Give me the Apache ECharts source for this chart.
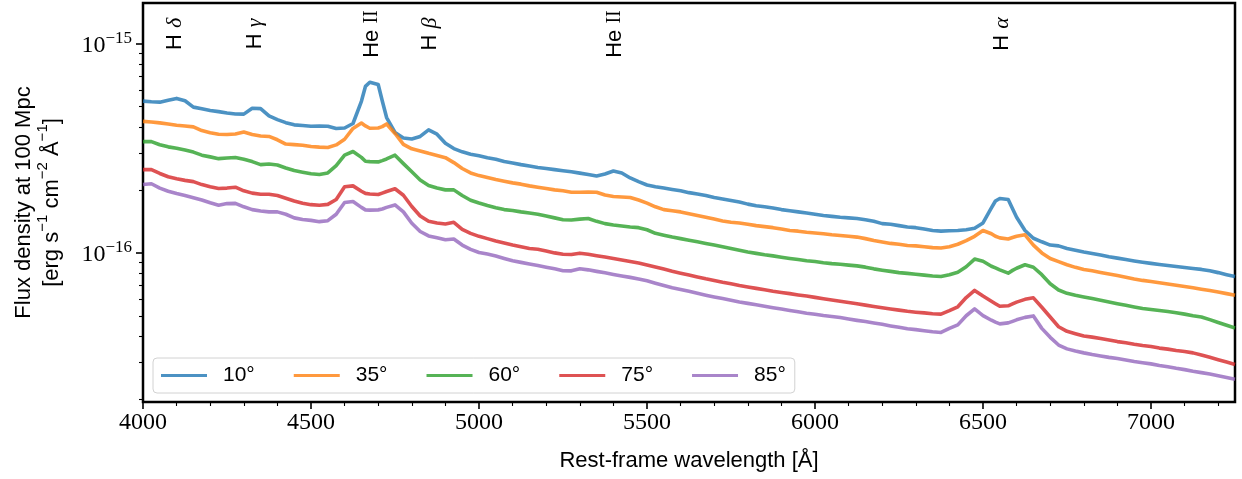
<!DOCTYPE html>
<html>
<head>
<meta charset="utf-8">
<script src="https://cdn.jsdelivr.net/npm/echarts@6/dist/echarts.min.js"></script>
<style>
  html, body { margin: 0; padding: 0; background: #ffffff; }
  #chart { width: 1242px; height: 479px; }
</style>
</head>
<body>
<div id="chart"></div>
<script>
// Rest-frame wavelength samples [Å] (a few extra samples across the strongest lines)
const wavelength = [
  4000, 4025, 4050, 4075, 4100, 4125, 4150, 4175, 4200, 4225, 4250, 4275, 4300, 4325, 4350, 4375,
  4400, 4425, 4450, 4475, 4500, 4525, 4550, 4575, 4600, 4625, 4650, 4662, 4675, 4700, 4712, 4725, 4750, 4775,
  4800, 4825, 4850, 4875, 4900, 4925, 4950, 4975, 5000, 5025, 5050, 5075, 5100, 5125, 5150, 5175,
  5200, 5225, 5250, 5275, 5300, 5325, 5350, 5375, 5400, 5425, 5450, 5475, 5500, 5525, 5550, 5575,
  5600, 5625, 5650, 5675, 5700, 5725, 5750, 5775, 5800, 5825, 5850, 5875, 5900, 5925, 5950, 5975,
  6000, 6025, 6050, 6075, 6100, 6125, 6150, 6175, 6200, 6225, 6250, 6275, 6300, 6325, 6350, 6375,
  6400, 6425, 6450, 6475, 6500, 6525, 6537, 6550, 6575, 6588, 6600, 6625, 6650, 6675, 6700, 6725, 6750, 6775,
  6800, 6825, 6850, 6875, 6900, 6925, 6950, 6975, 7000, 7025, 7050, 7075, 7100, 7125, 7150, 7175,
  7200, 7225, 7250
];

// Flux density at 100 Mpc, in units of 1e-17 erg s^-1 cm^-2 Å^-1, one array per viewing angle
const flux10 = [
  53.1, 52.7, 52.5, 53.6, 54.7, 53.3, 49.7, 48.8, 47.9, 47.3, 46.6, 46.1, 46.0, 49.1, 48.9, 45.1,
  43.3, 41.9, 40.9, 40.6, 40.3, 40.4, 40.3, 39.3, 39.5, 41.5, 53.0, 62.4, 65.3, 63.7, 53.3, 44.3, 37.6, 35.4,
  35.0, 36.0, 38.7, 36.9, 33.4, 31.5, 30.4, 29.6, 29.1, 28.5, 28.0, 27.3, 26.9, 26.4, 26.0, 25.6,
  25.3, 25.0, 24.7, 24.4, 24.05, 23.7, 23.3, 23.8, 24.6, 24.1, 22.8, 21.9, 21.1, 20.7, 20.4, 20.1,
  19.8, 19.4, 19.1, 18.8, 18.4, 18.1, 17.8, 17.5, 17.1, 16.8, 16.6, 16.4, 16.1, 15.9, 15.7, 15.5,
  15.3, 15.1, 14.95, 14.8, 14.7, 14.6, 14.4, 14.15, 13.8, 13.7, 13.5, 13.3, 13.2, 13.0, 12.8, 12.7,
  12.75, 12.8, 12.9, 13.1, 13.9, 16.4, 17.7, 18.2, 18.0, 16.25, 14.8, 12.8, 11.75, 11.3, 10.9, 10.8, 10.5, 10.3,
  10.1, 9.94, 9.76, 9.58, 9.44, 9.29, 9.15, 9.02, 8.91, 8.81, 8.71, 8.61, 8.52, 8.43, 8.34, 8.21,
  8.05, 7.87, 7.71
];
const flux35 = [
  42.5, 42.2, 41.8, 41.3, 40.7, 40.4, 40.0, 38.4, 37.5, 36.9, 36.8, 37.0, 37.8, 36.8, 36.2, 36.0,
  34.7, 33.1, 32.9, 32.7, 32.2, 32.0, 31.9, 32.8, 34.9, 39.3, 41.7, 40.4, 39.4, 39.5, 40.1, 41.3, 37.2, 33.0,
  31.4, 30.7, 29.9, 29.2, 28.5, 27.0, 25.3, 24.1, 23.4, 22.9, 22.4, 22.0, 21.6, 21.3, 20.9, 20.6,
  20.3, 20.0, 19.8, 19.5, 19.5, 19.55, 19.5, 18.9, 18.6, 18.5, 18.4, 17.9, 17.3, 16.6, 16.1, 15.9,
  15.7, 15.4, 15.1, 14.8, 14.5, 14.2, 14.0, 13.9, 13.7, 13.5, 13.35, 13.2, 13.0, 12.8, 12.7, 12.56,
  12.45, 12.35, 12.2, 12.1, 12.0, 11.9, 11.7, 11.45, 11.27, 11.1, 11.0, 10.85, 10.8, 10.7, 10.6, 10.55,
  10.7, 11.0, 11.45, 12.0, 12.8, 12.35, 12.0, 11.8, 11.65, 11.84, 12.0, 12.2, 10.9, 10.0, 9.40, 9.08, 8.78, 8.53,
  8.34, 8.22, 8.07, 7.93, 7.79, 7.65, 7.51, 7.39, 7.30, 7.20, 7.10, 7.00, 6.91, 6.81, 6.71, 6.61,
  6.50, 6.39, 6.27
];
const flux60 = [
  34.0, 34.0, 32.85, 32.1, 31.6, 31.0, 30.3, 29.3, 28.75, 28.2, 28.4, 28.55, 28.0, 27.3, 26.4, 26.6,
  26.3, 25.45, 24.75, 24.3, 23.9, 23.7, 24.1, 26.1, 29.3, 30.5, 28.6, 27.4, 27.3, 27.2, 27.6, 28.1, 29.3, 26.7,
  24.4, 22.3, 21.0, 20.4, 20.0, 20.0, 18.8, 17.85, 17.3, 16.85, 16.45, 16.1, 15.95, 15.7, 15.5, 15.3,
  15.0, 14.7, 14.4, 14.35, 14.5, 14.6, 14.15, 13.8, 13.6, 13.45, 13.3, 13.2, 12.9, 12.4, 12.15, 11.9,
  11.7, 11.5, 11.3, 11.1, 10.9, 10.7, 10.5, 10.3, 10.1, 9.95, 9.80, 9.68, 9.54, 9.41, 9.30, 9.18,
  9.09, 8.98, 8.89, 8.82, 8.74, 8.67, 8.55, 8.39, 8.27, 8.16, 8.05, 7.98, 7.91, 7.83, 7.76, 7.72,
  7.87, 8.09, 8.59, 9.34, 9.12, 8.63, 8.48, 8.30, 8.00, 8.25, 8.45, 8.78, 8.54, 7.87, 7.12, 6.65, 6.41, 6.27,
  6.16, 6.05, 5.94, 5.83, 5.72, 5.62, 5.52, 5.43, 5.37, 5.31, 5.25, 5.18, 5.10, 5.01, 4.94, 4.80,
  4.65, 4.51, 4.38
];
const flux75 = [
  25.0, 25.0, 23.95, 23.1, 22.6, 22.2, 21.9, 21.2, 20.7, 20.3, 20.4, 20.6, 19.8, 19.3, 19.05, 19.05,
  18.8, 18.25, 17.7, 17.25, 17.0, 16.9, 17.05, 18.0, 20.7, 20.9, 19.7, 19.25, 19.1, 19.0, 19.3, 19.65, 20.25, 18.85,
  16.65, 15.0, 14.15, 13.9, 13.75, 14.0, 12.95, 12.4, 12.0, 11.7, 11.4, 11.15, 10.9, 10.7, 10.5, 10.4,
  10.2, 10.0, 9.85, 9.82, 9.97, 9.86, 9.70, 9.55, 9.40, 9.25, 9.09, 8.94, 8.76, 8.56, 8.37, 8.17,
  8.00, 7.84, 7.68, 7.52, 7.38, 7.24, 7.12, 6.99, 6.88, 6.77, 6.67, 6.56, 6.47, 6.39, 6.30, 6.22,
  6.13, 6.04, 5.96, 5.88, 5.80, 5.71, 5.63, 5.55, 5.47, 5.40, 5.33, 5.26, 5.21, 5.17, 5.12, 5.10,
  5.30, 5.53, 6.12, 6.62, 6.22, 5.875, 5.72, 5.56, 5.59, 5.71, 5.82, 6.00, 6.10, 5.50, 4.94, 4.44, 4.22, 4.11,
  4.01, 3.96, 3.90, 3.84, 3.77, 3.72, 3.66, 3.61, 3.57, 3.51, 3.47, 3.42, 3.38, 3.33, 3.25, 3.17,
  3.09, 3.01, 2.93
];
const flux85 = [
  21.2, 21.4, 20.4, 19.7, 19.2, 18.8, 18.35, 17.9, 17.35, 16.9, 17.2, 17.25, 16.6, 16.1, 15.85, 15.7,
  15.7, 15.3, 14.7, 14.45, 14.3, 14.1, 14.25, 15.3, 17.4, 17.6, 16.5, 16.05, 16.0, 16.05, 16.2, 16.5, 16.95, 15.7,
  13.85, 12.65, 12.05, 11.8, 11.55, 11.65, 10.9, 10.4, 10.05, 9.87, 9.67, 9.41, 9.17, 9.01, 8.85, 8.71,
  8.55, 8.39, 8.22, 8.21, 8.40, 8.30, 8.16, 8.03, 7.89, 7.76, 7.64, 7.51, 7.36, 7.17, 6.99, 6.82,
  6.69, 6.55, 6.41, 6.28, 6.16, 6.05, 5.94, 5.83, 5.74, 5.65, 5.56, 5.47, 5.39, 5.31, 5.23, 5.15,
  5.09, 5.02, 4.97, 4.91, 4.83, 4.76, 4.70, 4.63, 4.56, 4.48, 4.41, 4.34, 4.30, 4.25, 4.20, 4.17,
  4.36, 4.53, 5.01, 5.40, 5.02, 4.77, 4.67, 4.58, 4.63, 4.71, 4.79, 4.92, 5.00, 4.36, 3.95, 3.63, 3.48, 3.40,
  3.33, 3.27, 3.22, 3.17, 3.13, 3.08, 3.03, 2.99, 2.95, 2.90, 2.86, 2.81, 2.77, 2.72, 2.68, 2.64,
  2.59, 2.54, 2.49
];

const fluxUnit = 1e-17;
const seriesNames = ['10°', '35°', '60°', '75°', '85°'];
const seriesFlux = [flux10, flux35, flux60, flux75, flux85];
const seriesColors = ['#1f77b4', '#ff7f0e', '#2ca02c', '#d62728', '#9467bd'];

// Axis ranges and tick positions
const xRange = [4000, 7250];
const yRange = [1.94e-17, 1.562e-15];
const xTickLabels = [4000, 4500, 5000, 5500, 6000, 6500, 7000];
const yTickLabels = [1e-16, 1e-15];

// Emission-line identifications drawn along the top of the plot
const lineWavelengths = [4102, 4340, 4686, 4861, 5411, 6563];
const lineIons = ['H', 'H', 'He', 'H', 'He', 'H'];
const lineLevels = ['δ', 'γ', 'II', 'β', 'II', 'α'];

const xMinorTicks = [];
for (let w = xRange[0]; w <= xRange[1]; w += 100) {
  if (xTickLabels.indexOf(w) < 0) xMinorTicks.push(w);
}
const yMinorTicks = [];
[1e-17, 1e-16].forEach(decade => {
  for (let m = 2; m <= 9; m++) {
    const v = m * decade;
    if (v >= yRange[0] && v <= yRange[1]) yMinorTicks.push(v);
  }
});

const SERIF = '"Liberation Serif", "DejaVu Serif", serif';
const SANS = '"Liberation Sans", "DejaVu Sans", sans-serif';

const chart = echarts.init(document.getElementById('chart'), null, { renderer: 'canvas' });

const majorTick = { show: true, length: 7, lineStyle: { color: '#000', width: 1.6 } };
const minorTick = { show: true, length: 4, lineStyle: { color: '#000', width: 1.1 } };

const option = {
  animation: false,
  backgroundColor: '#ffffff',
  grid: {
    left: 143, right: 7, top: 3, bottom: 72,
    show: true, borderColor: '#000', borderWidth: 2.5, backgroundColor: 'transparent'
  },
  legend: {
    left: 153, top: 358,
    orient: 'horizontal',
    icon: 'rect',
    itemWidth: 46, itemHeight: 3, itemGap: 39,
    padding: [7, 9, 7, 8],
    backgroundColor: 'rgba(255,255,255,0.8)',
    borderColor: '#d2d2d2', borderWidth: 1, borderRadius: 4,
    itemStyle: { opacity: 0.8 },
    formatter: name => '{t|' + name + '}',
    textStyle: {
      rich: { t: { fontFamily: SANS, fontSize: 21, color: '#000', lineHeight: 25, padding: [0, 0, 0, 11] } }
    },
    data: seriesNames
  },
  xAxis: [
    {
      type: 'value', min: xRange[0], max: xRange[1],
      name: 'Rest-frame wavelength [Å]', nameLocation: 'middle', nameGap: 46,
      nameTextStyle: { fontFamily: SANS, fontSize: 22, color: '#000', lineHeight: 26 },
      axisLine: { show: false },
      axisTick: Object.assign({ customValues: xTickLabels }, majorTick),
      axisLabel: {
        customValues: xTickLabels, margin: 9,
        formatter: v => String(v),
        fontFamily: SERIF, fontSize: 24, lineHeight: 24, color: '#000'
      },
      splitLine: { show: false }
    },
    {
      type: 'value', min: xRange[0], max: xRange[1], position: 'bottom',
      axisLine: { show: false },
      axisTick: Object.assign({ customValues: xMinorTicks }, minorTick),
      axisLabel: { show: false },
      splitLine: { show: false }
    }
  ],
  yAxis: [
    {
      type: 'log', logBase: 10, min: yRange[0], max: yRange[1],
      name: '{m|Flux density at 100 Mpc}\n{m|[erg s}{s|−1}{m| cm}{s|−2}{m| Å}{s|−1}{m|]}',
      nameLocation: 'middle', nameGap: 80,
      nameTextStyle: {
        rich: {
          m: { fontFamily: SANS, fontSize: 22, color: '#000', lineHeight: 28, verticalAlign: 'bottom' },
          s: { fontFamily: SANS, fontSize: 15, color: '#000', lineHeight: 15, verticalAlign: 'top' }
        }
      },
      axisLine: { show: false },
      axisTick: Object.assign({ customValues: yTickLabels }, majorTick),
      axisLabel: {
        customValues: yTickLabels, margin: 11,
        formatter: v => '{b|10}{s|−' + Math.round(-Math.log10(v)) + '}',
        rich: {
          b: { fontFamily: SERIF, fontSize: 24, color: '#000', lineHeight: 28, verticalAlign: 'bottom' },
          s: { fontFamily: SERIF, fontSize: 17, color: '#000', lineHeight: 17, verticalAlign: 'top' }
        }
      },
      splitLine: { show: false }
    },
    {
      type: 'log', logBase: 10, min: yRange[0], max: yRange[1], position: 'left',
      axisLine: { show: false },
      axisTick: Object.assign({ customValues: yMinorTicks }, minorTick),
      axisLabel: { show: false },
      splitLine: { show: false }
    }
  ],
  series: seriesNames.map((name, i) => ({
    name: name,
    type: 'line',
    xAxisIndex: 0,
    yAxisIndex: 0,
    showSymbol: false,
    symbol: 'none',
    color: seriesColors[i],
    itemStyle: { color: seriesColors[i], opacity: 0.8 },
    lineStyle: { color: seriesColors[i], width: 3.6, opacity: 0.8, join: 'round' },
    emphasis: { disabled: true },
    data: wavelength.map((w, k) => [w, seriesFlux[i][k] * fluxUnit])
  }))
};

chart.setOption(option);

// Rotated line identifications, placed through the x axis scale
const labelY = 34;
chart.setOption({
  graphic: lineWavelengths.map((w, i) => {
    const px = chart.convertToPixel({ xAxisIndex: 0 }, w);
    const isIon = lineLevels[i] === 'II';
    return {
      type: 'text',
      x: px - 2,
      y: labelY,
      rotation: Math.PI / 2,
      silent: true,
      style: {
        text: '{h|' + lineIons[i] + ' }' + (isIon ? '{r|' : '{g|') + lineLevels[i] + '}',
        align: 'center',
        verticalAlign: 'middle',
        rich: {
          h: { fontFamily: SANS, fontSize: 22, fill: '#000' },
          r: { fontFamily: SERIF, fontSize: 20, fill: '#000' },
          g: { fontFamily: SERIF, fontStyle: 'italic', fontSize: 22, fill: '#000' }
        }
      }
    };
  })
});
</script>
</body>
</html>
